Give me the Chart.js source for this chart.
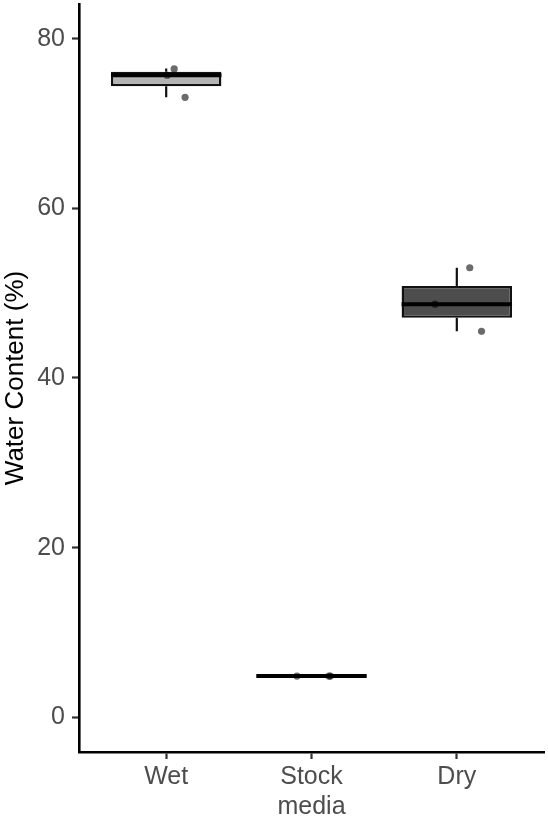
<!DOCTYPE html>
<html lang="en">
<head>
    <meta charset="UTF-8">
    <title>Water Content</title>
    <style>
        body { margin: 0; background: #fff; }
        .container { width: 548px; height: 818px; }
    </style>
    <script src="https://cdn.jsdelivr.net/npm/chart.js"></script>
</head>
<body>
<div class="container">
    <canvas id="boxChart" width="548" height="818"></canvas>
</div>
<script>
    // groups on the x axis (positions 1, 2, 3)
    const categories = ['Wet', ['Stock', 'media'], 'Dry'];
    const boxColors = ['#b3b3b3', '#808080', '#4d4d4d'];

    // box statistics
    const whiskerLow = [73.1, 4.85, 45.5];
    const q1 = [74.4, 4.85, 47.1];
    const median = [75.7, 4.85, 48.7];
    const q3 = [76.1, 4.85, 50.85];
    const whiskerHigh = [76.5, 4.85, 53.0];

    // raw observations and their horizontal jitter
    const wetValues = [76.45, 75.7, 73.1];
    const wetJitter = [0.055, 0.007, 0.13];
    const stockValues = [4.85, 4.85, 4.85];
    const stockJitter = [-0.10, 0.13, 0.12];
    const dryValues = [53.0, 48.7, 45.5];
    const dryJitter = [0.089, -0.15, 0.17];

    const yTicks = [0, 20, 40, 60, 80];
    const boxWidth = 0.76;

    const boxes = categories.map((c, i) => ({ x: i + 1, y: [q1[i], q3[i]] }));

    const whiskers = [];
    categories.forEach((c, i) => {
        whiskers.push({ x: i + 1, y: q3[i] }, { x: i + 1, y: whiskerHigh[i] }, { x: i + 1, y: null });
        whiskers.push({ x: i + 1, y: q1[i] }, { x: i + 1, y: whiskerLow[i] }, { x: i + 1, y: null });
    });

    const medians = [];
    categories.forEach((c, i) => {
        medians.push({ x: i + 1 - boxWidth / 2, y: median[i] }, { x: i + 1 + boxWidth / 2, y: median[i] }, { x: i + 1, y: null });
    });

    const points = [];
    [[wetValues, wetJitter], [stockValues, stockJitter], [dryValues, dryJitter]].forEach(([vals, jit], i) => {
        vals.forEach((v, k) => points.push({ x: i + 1 + jit[k], y: v }));
    });

    const font = 'Liberation Sans, Arial, Helvetica, sans-serif';

    const ctx = document.getElementById('boxChart').getContext('2d');
    new Chart(ctx, {
        type: 'bar',
        data: {
            datasets: [
                {
                    type: 'scatter',
                    data: points,
                    backgroundColor: 'rgba(0,0,0,0.58)',
                    borderWidth: 0,
                    pointRadius: 3.6,
                    order: 0
                },
                {
                    type: 'line',
                    data: medians,
                    borderColor: '#000',
                    borderWidth: 4,
                    pointRadius: 0,
                    spanGaps: false,
                    borderCapStyle: 'butt',
                    order: 1
                },
                {
                    type: 'bar',
                    data: boxes,
                    backgroundColor: boxColors,
                    borderColor: '#111',
                    borderWidth: 2.4,
                    borderSkipped: false,
                    barPercentage: boxWidth,
                    categoryPercentage: 1,
                    order: 2
                },
                {
                    type: 'line',
                    data: whiskers,
                    borderColor: '#111',
                    borderWidth: 2.2,
                    pointRadius: 0,
                    spanGaps: false,
                    order: 3
                }
            ]
        },
        options: {
            responsive: false,
            animation: false,
            layout: { padding: 0 },
            plugins: {
                legend: { display: false },
                tooltip: { enabled: false }
            },
            scales: {
                x: {
                    type: 'linear',
                    offset: false,
                    min: 0.4,
                    max: 3.6,
                    afterBuildTicks: scale => {
                        scale.ticks = categories.map((c, i) => ({ value: i + 1 }));
                    },
                    afterFit: scale => {
                        scale.height = 66;
                        scale.paddingLeft = 0;
                        scale.paddingRight = 0;
                    },
                    ticks: {
                        callback: (v) => categories[Math.round(v) - 1],
                        color: '#4d4d4d',
                        font: { family: font, size: 25 },
                        padding: 3,
                        maxRotation: 0,
                        autoSkip: false
                    },
                    grid: {
                        offset: false,
                        drawOnChartArea: false,
                        drawTicks: true,
                        tickLength: 7,
                        tickWidth: 2.2,
                        color: '#333'
                    },
                    border: { display: true, color: '#000', width: 2.6 }
                },
                y: {
                    min: -4.1,
                    max: 84.1,
                    afterBuildTicks: scale => {
                        scale.ticks = yTicks.map(v => ({ value: v }));
                    },
                    afterFit: scale => {
                        scale.width = 79;
                        scale.paddingTop = 0;
                        scale.paddingBottom = 0;
                    },
                    ticks: {
                        color: '#4d4d4d',
                        font: { family: font, size: 25 },
                        padding: 7
                    },
                    grid: {
                        drawOnChartArea: false,
                        drawTicks: true,
                        tickLength: 7,
                        tickWidth: 2.2,
                        color: '#333'
                    },
                    border: { display: true, color: '#000', width: 2.6 },
                    title: {
                        display: true,
                        text: 'Water Content (%)',
                        color: '#000',
                        font: { family: font, size: 26 },
                        padding: { top: 0, bottom: 0 }
                    }
                }
            }
        }
    });
</script>
</body>
</html>
